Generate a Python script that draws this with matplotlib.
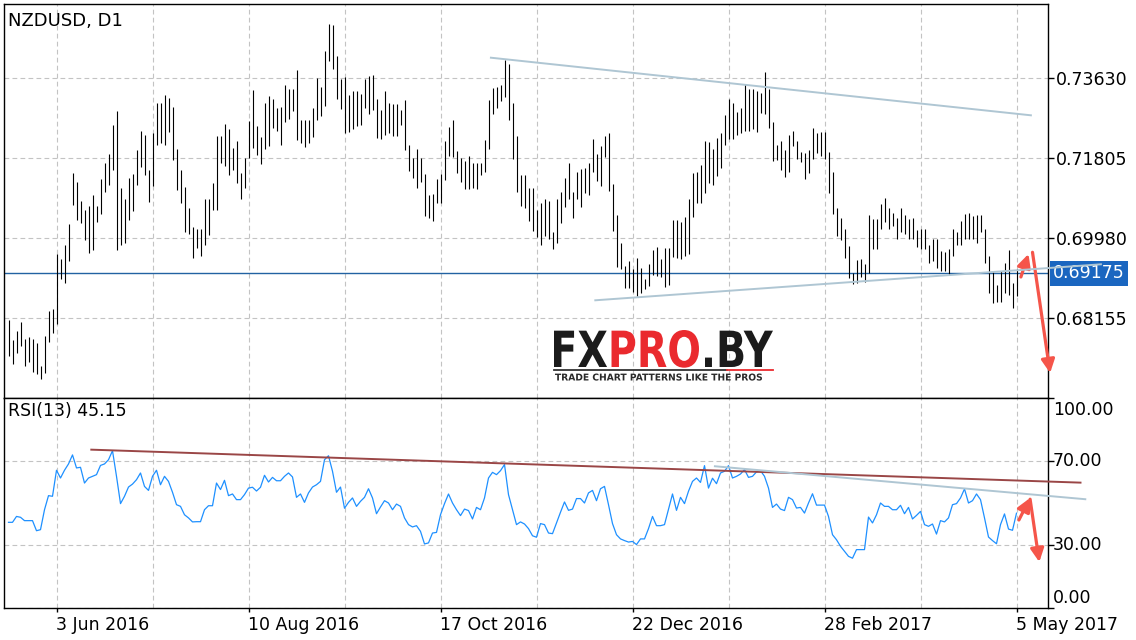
import matplotlib
matplotlib.use("Agg")
import matplotlib.pyplot as plt
import numpy as np
from matplotlib.textpath import TextPath, text_to_path
from matplotlib.font_manager import FontProperties
from matplotlib.patches import PathPatch
from matplotlib.transforms import Affine2D

# daily NZDUSD bars (high / low), oldest first
highs = [
    0.6812, 0.6765, 0.6786, 0.6807, 0.6767, 0.6773, 0.6767, 0.6759, 0.6706, 0.6774,
    0.6831, 0.6837, 0.6961, 0.6949, 0.6983, 0.7029, 0.7147, 0.7126, 0.7082, 0.7063,
    0.7072, 0.7095, 0.7071, 0.7132, 0.7170, 0.7189, 0.7255, 0.7287, 0.7113, 0.7086,
    0.7135, 0.7145, 0.7198, 0.7241, 0.7234, 0.7154, 0.7237, 0.7306, 0.7305, 0.7325,
    0.7318, 0.7296, 0.7202, 0.7154, 0.7115, 0.7067, 0.7024, 0.7018, 0.7018, 0.7086,
    0.7086, 0.7124, 0.7230, 0.7230, 0.7257, 0.7246, 0.7204, 0.7220, 0.7147, 0.7181,
    0.7265, 0.7335, 0.7253, 0.7229, 0.7305, 0.7323, 0.7314, 0.7295, 0.7296, 0.7346,
    0.7337, 0.7337, 0.7382, 0.7267, 0.7267, 0.7267, 0.7295, 0.7363, 0.7343, 0.7424,
    0.7487, 0.7483, 0.7414, 0.7360, 0.7365, 0.7325, 0.7333, 0.7333, 0.7327, 0.7360,
    0.7367, 0.7369, 0.7316, 0.7289, 0.7333, 0.7305, 0.7303, 0.7304, 0.7291, 0.7312,
    0.7210, 0.7181, 0.7200, 0.7181, 0.7144, 0.7095, 0.7099, 0.7133, 0.7145, 0.7219,
    0.7251, 0.7267, 0.7196, 0.7181, 0.7173, 0.7185, 0.7168, 0.7168, 0.7170, 0.7221,
    0.7312, 0.7341, 0.7342, 0.7348, 0.7405, 0.7394, 0.7306, 0.7230, 0.7142, 0.7142,
    0.7113, 0.7113, 0.7063, 0.7078, 0.7086, 0.7082, 0.7012, 0.7086, 0.7103, 0.7134,
    0.7170, 0.7103, 0.7149, 0.7156, 0.7158, 0.7168, 0.7223, 0.7189, 0.7208, 0.7230,
    0.7238, 0.7122, 0.7050, 0.6987, 0.6934, 0.6945, 0.6928, 0.6953, 0.6930, 0.6905,
    0.6938, 0.6971, 0.6978, 0.6949, 0.6976, 0.6976, 0.7040, 0.7040, 0.7034, 0.7047,
    0.7087, 0.7147, 0.7148, 0.7164, 0.7220, 0.7217, 0.7200, 0.7227, 0.7238, 0.7278,
    0.7314, 0.7306, 0.7285, 0.7295, 0.7350, 0.7339, 0.7338, 0.7333, 0.7328, 0.7376,
    0.7337, 0.7263, 0.7211, 0.7219, 0.7198, 0.7234, 0.7243, 0.7219, 0.7195, 0.7191,
    0.7199, 0.7248, 0.7238, 0.7240, 0.7240, 0.7194, 0.7149, 0.7067, 0.7044, 0.7018,
    0.6980, 0.6919, 0.6948, 0.6949, 0.6939, 0.7050, 0.7042, 0.7042, 0.7075, 0.7090,
    0.7067, 0.7056, 0.7044, 0.7067, 0.7050, 0.7042, 0.7044, 0.7016, 0.7018, 0.7019,
    0.6983, 0.6996, 0.6995, 0.6968, 0.6966, 0.6974, 0.7018, 0.7012, 0.7037, 0.7052,
    0.7056, 0.7048, 0.7050, 0.7050, 0.7018, 0.6957, 0.6923, 0.6890, 0.6923, 0.6940,
    0.6971, 0.6896, 0.6928,
]
lows = [
    0.6729, 0.6710, 0.6736, 0.6752, 0.6706, 0.6714, 0.6692, 0.6687, 0.6676, 0.6691,
    0.6761, 0.6782, 0.6801, 0.6904, 0.6896, 0.6945, 0.7073, 0.7040, 0.7033, 0.6993,
    0.6963, 0.6971, 0.7034, 0.7052, 0.7103, 0.7118, 0.7154, 0.6971, 0.6983, 0.6987,
    0.7040, 0.7059, 0.7120, 0.7159, 0.7142, 0.7080, 0.7116, 0.7211, 0.7215, 0.7211,
    0.7240, 0.7176, 0.7107, 0.7077, 0.7012, 0.7006, 0.6953, 0.6976, 0.6957, 0.6983,
    0.7004, 0.7063, 0.7062, 0.7168, 0.7162, 0.7142, 0.7153, 0.7124, 0.7088, 0.7113,
    0.7181, 0.7204, 0.7187, 0.7167, 0.7202, 0.7208, 0.7249, 0.7242, 0.7210, 0.7262,
    0.7270, 0.7287, 0.7221, 0.7214, 0.7206, 0.7214, 0.7229, 0.7268, 0.7276, 0.7300,
    0.7401, 0.7384, 0.7316, 0.7293, 0.7238, 0.7240, 0.7246, 0.7253, 0.7255, 0.7295,
    0.7280, 0.7291, 0.7227, 0.7224, 0.7234, 0.7237, 0.7230, 0.7230, 0.7255, 0.7198,
    0.7151, 0.7135, 0.7113, 0.7126, 0.7048, 0.7044, 0.7037, 0.7078, 0.7077, 0.7130,
    0.7185, 0.7183, 0.7147, 0.7126, 0.7110, 0.7110, 0.7113, 0.7110, 0.7141, 0.7148,
    0.7202, 0.7280, 0.7295, 0.7310, 0.7320, 0.7268, 0.7179, 0.7103, 0.7071, 0.7067,
    0.7037, 0.7014, 0.7001, 0.6983, 0.7002, 0.6996, 0.6974, 0.6986, 0.7033, 0.7069,
    0.7086, 0.7044, 0.7086, 0.7069, 0.7101, 0.7097, 0.7148, 0.7128, 0.7116, 0.7183,
    0.7105, 0.7014, 0.6932, 0.6928, 0.6885, 0.6885, 0.6875, 0.6866, 0.6873, 0.6881,
    0.6888, 0.6913, 0.6911, 0.6910, 0.6887, 0.6890, 0.6955, 0.6953, 0.6951, 0.6958,
    0.6961, 0.7047, 0.7077, 0.7077, 0.7100, 0.7124, 0.7120, 0.7139, 0.7158, 0.7211,
    0.7223, 0.7224, 0.7232, 0.7237, 0.7242, 0.7242, 0.7246, 0.7240, 0.7284, 0.7280,
    0.7249, 0.7173, 0.7175, 0.7154, 0.7138, 0.7149, 0.7208, 0.7179, 0.7171, 0.7132,
    0.7147, 0.7179, 0.7192, 0.7186, 0.7179, 0.7101, 0.7052, 0.7002, 0.6993, 0.6953,
    0.6907, 0.6892, 0.6896, 0.6910, 0.6898, 0.6919, 0.6974, 0.6972, 0.7018, 0.7034,
    0.7018, 0.7025, 0.6996, 0.7012, 0.7006, 0.6995, 0.6995, 0.6978, 0.6974, 0.6972,
    0.6942, 0.6945, 0.6930, 0.6923, 0.6923, 0.6913, 0.6957, 0.6981, 0.6983, 0.6996,
    0.6996, 0.6996, 0.6986, 0.7012, 0.6942, 0.6873, 0.6850, 0.6852, 0.6852, 0.6873,
    0.6867, 0.6839, 0.6866,
]
rsi = [
    40.8, 40.8, 43.6, 43.2, 41.6, 41.6, 41.6, 36.8, 37.3, 46.8,
    53.5, 53.2, 65.6, 61.9, 65.6, 68.6, 72.9, 66.7, 67.0, 59.5,
    61.9, 62.7, 63.5, 67.9, 68.6, 70.6, 74.9, 62.7, 49.7, 53.2,
    57.6, 59.0, 61.1, 64.3, 57.9, 56.0, 62.7, 65.6, 58.7, 62.7,
    60.3, 55.1, 49.2, 48.4, 44.4, 42.9, 41.0, 41.1, 41.1, 46.8,
    48.7, 48.7, 59.5, 56.4, 60.8, 53.5, 54.3, 51.6, 51.6, 54.0,
    57.1, 57.5, 55.7, 57.5, 63.2, 60.0, 62.2, 60.6, 60.6, 62.7,
    64.3, 62.4, 52.7, 54.3, 50.3, 54.8, 57.6, 58.7, 60.3, 70.6,
    72.5, 65.1, 55.1, 57.6, 47.5, 50.3, 52.4, 48.4, 50.8, 52.7,
    56.8, 52.4, 44.9, 48.1, 51.1, 50.0, 46.8, 49.5, 48.4, 42.9,
    39.7, 38.6, 39.2, 36.5, 30.5, 31.0, 35.7, 36.0, 44.4, 49.7,
    54.3, 50.0, 46.8, 44.0, 47.1, 46.4, 42.4, 47.9, 46.8, 52.4,
    61.9, 64.6, 63.5, 65.4, 68.3, 54.0, 46.8, 39.7, 41.0, 40.0,
    37.8, 34.4, 33.7, 40.2, 39.7, 35.7, 35.4, 40.5, 45.6, 50.5,
    46.5, 47.1, 52.1, 52.1, 50.0, 54.8, 56.0, 51.1, 56.8, 57.9,
    49.2, 40.2, 34.9, 32.9, 32.1, 31.4, 31.7, 30.2, 32.9, 32.9,
    37.8, 43.6, 39.2, 39.2, 39.7, 47.1, 54.3, 46.5, 52.7, 49.7,
    55.6, 60.3, 61.9, 59.8, 67.8, 57.1, 61.8, 59.2, 64.3, 65.1,
    67.8, 61.9, 62.7, 63.8, 65.9, 62.2, 62.7, 64.8, 65.4, 62.7,
    57.1, 47.9, 49.5, 47.1, 46.4, 52.7, 51.6, 47.6, 47.9, 45.2,
    50.0, 54.4, 49.0, 49.0, 49.0, 43.6, 34.9, 32.5, 29.4, 27.0,
    24.6, 23.7, 27.8, 27.8, 27.8, 43.3, 40.5, 44.4, 50.0, 48.4,
    48.4, 46.8, 46.8, 48.9, 44.9, 47.9, 42.4, 44.1, 46.0, 39.7,
    38.9, 40.0, 35.2, 41.6, 41.0, 42.9, 49.2, 49.7, 52.4, 56.7,
    50.0, 51.1, 54.3, 51.6, 42.9, 33.8, 32.1, 30.6, 39.7, 44.8,
    37.6, 37.0, 45.15,
]

date_pos = [12, 60, 108, 156, 204, 252]
date_labels = ["3 Jun 2016", "10 Aug 2016", "17 Oct 2016",
               "22 Dec 2016", "28 Feb 2017", "5 May 2017"]
price_ticks = [0.73630, 0.71805, 0.69980, 0.68155]
rsi_ticks = [100, 70, 30, 0]
last_price = 0.69175
last_rsi = 45.15

# hand drawn trend lines and arrows (bar index, value)
price_upper = ([120.6, 255.6], [0.74093, 0.72779])
price_lower = ([146.7, 273.1], [0.68559, 0.69380])
rsi_upper = ([20.7, 268.0], [75.4, 59.7])
rsi_lower = ([176.6, 269.2], [67.5, 51.8])
price_arrows = [((253.1, 0.69091), (255.0, 0.69615)),
                ((256.0, 0.69654), (260.4, 0.66900))]
rsi_arrows = [((252.6, 41.9), (255.4, 52.4)),
              ((255.4, 51.8), (257.7, 21.9))]

W, H = 1136, 640
fig = plt.figure(figsize=(W / 100, H / 100), dpi=100)
ax1 = fig.add_axes([4 / W, 1 - 398 / H, 1044 / W, 394 / H])
ax2 = fig.add_axes([4 / W, 1 - 608 / H, 1044 / W, 210 / H])

grid_kw = dict(color="#c3c3c3", lw=0.8, ls=(0, (4.3, 2.9)))
fs = 12.5
red = "#f5554a"

x = np.arange(len(highs))
ax1.vlines(x, lows, highs, color="black", lw=0.8, zorder=3)
ax1.axhline(last_price, color="#2262a2", lw=1.0, zorder=2)
ax1.set_xlim(-1.125, 259.875)
ax1.set_ylim(0.66330, 0.753181)

ax1.set_xticks(np.arange(12, 253, 24))
ax1.tick_params(axis="x", length=0, labelbottom=False)
ax1.yaxis.tick_right()
ax1.set_yticks(price_ticks)
ax1.set_yticklabels([f"{p:.5f}" for p in price_ticks])
ax1.tick_params(axis="y", length=4, width=1, pad=1.5, labelsize=fs)
ax1.grid(True, **grid_kw)
ax1.set_axisbelow(True)

ax1.plot(*price_upper, color="#afc6d3", lw=1.4, zorder=4)
ax1.plot(*price_lower, color="#afc6d3", lw=1.4, zorder=4, clip_on=False)
for tail, tip in price_arrows:
    ax1.annotate("", xy=tip, xytext=tail, annotation_clip=False,
                 arrowprops=dict(arrowstyle="-|>,head_length=0.8,head_width=0.4",
                                 color=red, lw=2.3, shrinkA=0, shrinkB=0))

ax1.annotate(f"{last_price:.5f}", xy=(1.0, last_price),
             xycoords=("axes fraction", "data"), xytext=(3.6, 0),
             textcoords="offset points", ha="left", va="center",
             color="white", fontsize=fs, annotation_clip=False,
             bbox=dict(boxstyle="square,pad=0.2", fc="#1a66c0", ec="none"))
ax1.text(0.0038, 0.944, "NZDUSD, D1", transform=ax1.transAxes,
         fontsize=13, va="baseline", ha="left")

# RSI panel
ax2.plot(x, rsi, color="#1e90ff", lw=0.9, zorder=3)
ax2.set_xlim(-1.125, 259.875)
ax2.set_ylim(0, 100)
ax2.set_xticks(date_pos)
ax2.set_xticklabels(date_labels)
ax2.set_xticks(np.arange(36, 253, 48), minor=True)
ax2.tick_params(axis="x", which="major", length=3, width=1, pad=2.5, labelsize=fs)
ax2.tick_params(axis="x", which="minor", length=0)
for t in ax2.get_xticklabels():
    t.set_horizontalalignment("left")
ax2.yaxis.tick_right()
ax2.set_yticks(rsi_ticks)
ax2.tick_params(axis="y", length=4, width=1, labelright=False)
ax2.grid(True, which="both", **grid_kw)
ax2.set_axisbelow(True)

rsi_offsets = {100: -8.6, 70: 0, 30: 0, 0: 7.5}
for v in rsi_ticks:
    ax2.annotate(f"{v:.2f}", xy=(1.0, v), xycoords=("axes fraction", "data"),
                 xytext=(3.6, rsi_offsets[v]), textcoords="offset points",
                 ha="left", va="center", fontsize=fs, annotation_clip=False)

ax2.plot(*rsi_upper, color="#9a4646", lw=1.4, zorder=4, clip_on=False)
ax2.plot(*rsi_lower, color="#afc6d3", lw=1.4, zorder=4, clip_on=False)
for tail, tip in rsi_arrows:
    ax2.annotate("", xy=tip, xytext=tail, annotation_clip=False,
                 arrowprops=dict(arrowstyle="-|>,head_length=0.8,head_width=0.4",
                                 color=red, lw=2.3, shrinkA=0, shrinkB=0))
ax2.text(0.0038, 0.914, f"RSI(13) {last_rsi:.2f}", transform=ax2.transAxes,
         fontsize=fs, va="baseline", ha="left")

for ax in (ax1, ax2):
    for s in ax.spines.values():
        s.set_color("black")
        s.set_linewidth(1.0)


# watermark logo, drawn in pixel coordinates on a transparent overlay
ov = fig.add_axes([0, 0, 1, 1], zorder=10)
ov.set_xlim(0, W)
ov.set_ylim(H, 0)
ov.axis("off")


def fit_text(ax, parts, x0, x1, y_top, y_base, family, weight):
    fp = FontProperties(family=family, weight=weight, size=100)
    paths, xoff = [], 0.0
    for s, c in parts:
        paths.append((TextPath((xoff, 0), s, size=100, prop=fp), c))
        xoff += text_to_path.get_text_width_height_descent(s, fp, ismath=False)[0]
    xmin = min(p.get_extents().x0 for p, _ in paths)
    xmax = max(p.get_extents().x1 for p, _ in paths)
    ymax = max(p.get_extents().y1 for p, _ in paths)
    sx = (x1 - x0) / (xmax - xmin)
    sy = (y_base - y_top) / ymax
    tr = Affine2D().translate(-xmin, 0).scale(sx, -sy).translate(x0, y_base)
    for p, c in paths:
        ax.add_patch(PathPatch(tr.transform_path(p), fc=c, ec="none", lw=0))


fit_text(ov, [("FX", "#1b1b1b"), ("PRO", "#ea2a2e"), (".BY", "#1b1b1b")],
         554, 773, 330, 367, "DejaVu Sans", "bold")
ov.plot([554, 727], [369.5, 369.5], color="#333333", lw=1.3)
ov.plot([727, 773], [369.5, 369.5], color="#ea2a2e", lw=1.3)
fit_text(ov, [("TRADE CHART PATTERNS LIKE THE PROS", "#2a2a2a")],
         555, 762, 373.5, 380.5, "DejaVu Sans", "bold")

fig.savefig("out.png", dpi=100)
